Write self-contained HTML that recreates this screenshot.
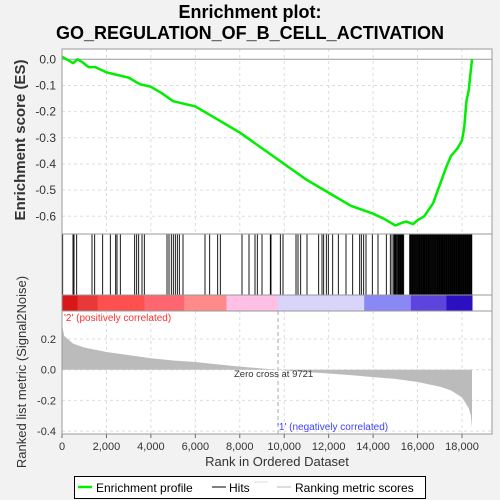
<!DOCTYPE html>
<html><head><meta charset="utf-8"><style>
html,body{margin:0;padding:0;background:#f2f2f2;}
svg{display:block;font-family:"Liberation Sans","DejaVu Sans",sans-serif;}
</style></head><body>
<svg id="chart" width="500" height="500" viewBox="0 0 500 500">
<text x="250" y="18" text-anchor="middle" font-size="18" font-weight="bold">Enrichment plot:</text>
<text x="250" y="39" text-anchor="middle" font-size="18" font-weight="bold">GO_REGULATION_OF_B_CELL_ACTIVATION</text>
<rect x="62" y="49" width="430" height="262" fill="#fff"/>
<rect x="62" y="311" width="430" height="123" fill="#fff"/>
<g id="grid"></g>
<g id="colorbar"></g>
<g id="metric"></g>
<g id="hits"></g>
<g id="es"></g>
<g id="axes"></g>
<text transform="translate(25,140) rotate(-90)" text-anchor="middle" font-size="15" font-weight="bold" fill="#333">Enrichment score (ES)</text>
<text transform="translate(26,372) rotate(-90)" text-anchor="middle" font-size="13" fill="#333">Ranked list metric (Signal2Noise)</text>
<text x="277" y="466" text-anchor="middle" font-size="13" fill="#333">Rank in Ordered Dataset</text>
<text x="64" y="321" font-size="10" fill="#ff3030">'2' (positively correlated)</text>
<text x="277" y="430" font-size="10" fill="#4040ff">'1' (negatively correlated)</text>
<text x="234" y="377" font-size="9.5" fill="#333">Zero cross at 9721</text>
<g>
<rect x="74.5" y="476.5" width="351" height="22" fill="#fff" stroke="#000"/>
<line x1="78" y1="487" x2="92" y2="487" stroke="#00ee00" stroke-width="2.5"/>
<text x="96" y="492" font-size="12">Enrichment profile</text>
<line x1="212" y1="487" x2="226" y2="487" stroke="#000" stroke-width="1"/>
<text x="229" y="492" font-size="12">Hits</text>
<line x1="254" y1="482" x2="268" y2="482" stroke="#ddd" stroke-width="1"/>
<line x1="277" y1="487" x2="291" y2="487" stroke="#bbb" stroke-width="1"/>
<text x="295" y="492" font-size="12">Ranking metric scores</text>
</g>
</svg>
<script>
const xTicks=[0,2000,4000,6000,8000,10000,12000,14000,16000,18000];
const xTickLabels=["0","2,000","4,000","6,000","8,000","10,000","12,000","14,000","16,000","18,000"];
const esTicks=[0,-0.1,-0.2,-0.3,-0.4,-0.5,-0.6];
const esTickLabels=["0.0","-0.1","-0.2","-0.3","-0.4","-0.5","-0.6"];
const mTicks=[0.2,0,-0.2,-0.4];
const mTickLabels=["0.2","0.0","-0.2","-0.4"];
const esRanks=[0,300,500,700,900,1200,1500,2000,2500,3000,3500,4000,4500,5000,5500,6000,7000,8000,9000,10000,11000,12000,13000,14000,14500,15000,15300,15500,15800,16000,16300,16700,17000,17300,17500,17800,18000,18100,18200,18300,18450];
const esValues=[0.01,-0.005,-0.015,0.0,-0.01,-0.03,-0.03,-0.05,-0.06,-0.07,-0.095,-0.105,-0.13,-0.16,-0.17,-0.18,-0.23,-0.28,-0.34,-0.40,-0.46,-0.51,-0.56,-0.59,-0.61,-0.635,-0.625,-0.62,-0.63,-0.615,-0.6,-0.55,-0.48,-0.41,-0.37,-0.34,-0.31,-0.26,-0.16,-0.12,0.0];
const hitRanks=[30,495,540,660,1350,1470,1830,2175,2415,2475,2625,3270,3360,3450,3600,3705,4725,4815,4920,5010,5100,5190,5280,5445,6435,6645,7005,7125,8100,8415,8685,8790,9000,9375,9405,9825,9945,10530,10620,10740,11025,11550,11700,11775,11895,11985,12180,12435,12780,13080,13395,13470,13575,13680,13965,14220,14595,14775,14850,14925,14960,14990,15020,15050,15100,15130,15160,15190,15220,15250,15280,15310,15340,15375,15645,15670,15700,15730,15760,15790,15810,15840,15870,15900,15930,15960,15990,16020,16050,16080,16100,16130,16160,16190,16220,16250,16280,16300,16330,16360,16390,16420,16450,16480,16500,16530,16560,16590,16620,16650,16680,16710,16740,16770,16800,16830,16850,16880,16910,16940,16970,17000,17030,17060,17080,17110,17140,17170,17200,17230,17260,17290,17320,17350,17380,17410,17440,17470,17500,17530,17560,17590,17620,17650,17680,17710,17740,17770,17800,17830,17850,17880,17900,17930,17960,17990,18020,18050,18080,18110,18140,18170,18200,18230,18260,18290,18320,18350,18380,18410,18440];
const metricRanks=[0,100,500,1000,2000,3000,4000,5000,6000,7000,8000,9000,9721,10000,11000,12000,13000,14000,15000,16000,17000,17500,18000,18300,18400,18450];
const metricValues=[0.29,0.22,0.17,0.145,0.115,0.095,0.075,0.06,0.05,0.035,0.02,0.008,0,-0.005,-0.015,-0.025,-0.035,-0.048,-0.06,-0.08,-0.11,-0.135,-0.18,-0.25,-0.3,-0.38];
const barRanks=[0,700,1600,3700,5500,7400,9721,13600,15700,17300,18450];
const barColors=["#d81818","#e83838","#ff5050","#ff6670","#ff8a8a","#ffc0e6","#d8d4fa","#8a88f4","#5c44dc","#2a10c0"];

const NS="http://www.w3.org/2000/svg";
const X=r=>62+r*(400/18000);
const YE=v=>59.3-v*(157/0.6);
const YM=v=>369.7-v*153.5;
function mk(tag,attrs,parent){const e=document.createElementNS(NS,tag);for(const k in attrs)e.setAttribute(k,attrs[k]);document.getElementById(parent).appendChild(e);return e;}

xTicks.forEach((t,i)=>{
  if(i>0){
  const g1=mk('line',{x1:X(t),x2:X(t),y1:49,y2:234,stroke:'#ddd','stroke-dasharray':'3,3'},'grid');
  
  
  const g2=mk('line',{x1:X(t),x2:X(t),y1:311,y2:434,stroke:'#ddd','stroke-dasharray':'3,3'},'grid');
  
  }
  const tk=mk('line',{x1:X(t),x2:X(t),y1:434,y2:438,stroke:'#666'},'axes');
  
  
  const tl=mk('text',{x:X(t),y:450,'text-anchor':'middle','font-size':'11',fill:'#333'},'axes');
  tl.textContent=xTickLabels[i];
  
  
});
esTicks.forEach((t,i)=>{
  const g=mk('line',{x1:62,x2:492,y1:YE(t),y2:YE(t),stroke:t===0?'#999':'#ddd','stroke-dasharray':t===0?'':'3,3'},'grid');
  
  
  const tl=mk('text',{x:56,y:YE(t)+4,'text-anchor':'end','font-size':'12',fill:'#333'},'axes');
  tl.textContent=esTickLabels[i];
  
  
});
mTicks.forEach((t,i)=>{
  const g=mk('line',{x1:62,x2:492,y1:YM(t),y2:YM(t),stroke:'#ddd','stroke-dasharray':'3,3'},'grid');
  
  
  const tl=mk('text',{x:56,y:YM(t)+4,'text-anchor':'end','font-size':'11',fill:'#333'},'axes');
  tl.textContent=mTickLabels[i];
  
  
});
const zc=mk('line',{x1:X(9721),x2:X(9721),y1:311,y2:434,stroke:'#aaa','stroke-dasharray':'4,3'},'grid');



for(let i=0;i<barColors.length;i++){
  const r=mk('rect',{x:X(barRanks[i]),y:295,width:X(barRanks[i+1])-X(barRanks[i])+0.5,height:16,fill:barColors[i]},'colorbar');
  
  
}

let d='M'+X(metricRanks[0])+','+YM(0);
metricRanks.forEach((r,i)=>{d+=' L'+X(r)+','+YM(metricValues[i]);});
d+=' L'+X(metricRanks[metricRanks.length-1])+','+YM(0)+' Z';
const ma=mk('path',{d:d,fill:'#bbb',stroke:'none'},'metric');



hitRanks.forEach(r=>{
  const h=mk('line',{x1:X(r),x2:X(r),y1:234,y2:295,stroke:'#000','stroke-width':'0.9'},'hits');
  
  
});

let pts=esRanks.map((r,i)=>X(r)+','+YE(esValues[i])).join(' ');
const es=mk('polyline',{points:pts,fill:'none',stroke:'#00ee00','stroke-width':'2.5','stroke-linejoin':'round'},'es');



[[49,234],[234,295],[295,311],[311,434]].forEach(p=>{
  const b=mk('rect',{x:62,y:p[0],width:430,height:p[1]-p[0],fill:'none',stroke:'#999'},'axes');
  
  
});
</script>
</body></html>
